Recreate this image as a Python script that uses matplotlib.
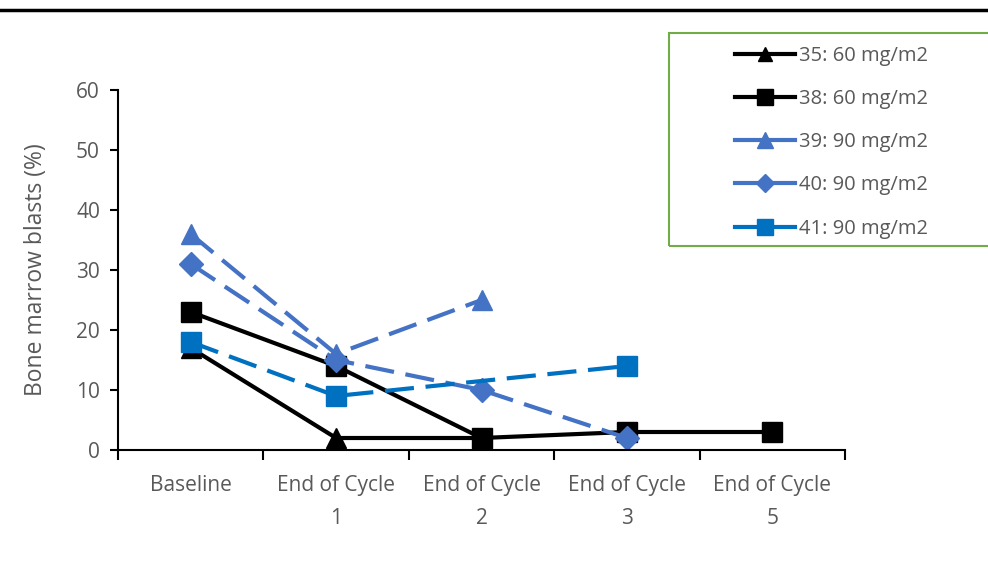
import numpy as np
import matplotlib.pyplot as plt
from matplotlib.lines import Line2D
from matplotlib.patches import Rectangle

plt.rcParams['font.family'] = ['Open Sans', 'DejaVu Sans']

categories = ['Baseline', 'End of Cycle\n1', 'End of Cycle\n2', 'End of Cycle\n3', 'End of Cycle\n5']
labels = ['35: 60 mg/m2', '38: 60 mg/m2', '39: 90 mg/m2', '40: 90 mg/m2', '41: 90 mg/m2']
s35 = [17, 2, 2, np.nan, np.nan]
s38 = [23, 14, 2, 3, 3]
s39 = [36, 16, 25, np.nan, np.nan]
s40 = [31, 15, 10, 2, np.nan]
s41 = [18, 9, np.nan, 14, np.nan]

series = [s35, s38, s39, s40, s41]
colors = ['black', 'black', '#4472C4', '#4472C4', '#0070C0']
markers = ['^', 's', '^', 'D', 's']
styles = ['-', '-', '--', '--', '--']
msizes = [14, 15, 15, 12, 15]

fig = plt.figure(figsize=(9.88, 5.61), dpi=100)
ax = fig.add_axes([118/988, 1-450/561, (845-118)/988, (450-90)/561])

xs = np.arange(len(categories))
for vals, c, m, ls, ms in zip(series, colors, markers, styles, msizes):
    v = np.array(vals, dtype=float)
    ok = ~np.isnan(v)
    line, = ax.plot(xs[ok], v[ok], color=c, marker=m, markersize=ms, linewidth=3,
                    linestyle=ls, clip_on=False)
    if ls == '--':
        line.set_dashes([7, 2.8])

ax.set_xlim(-0.5, 4.5)
ax.set_ylim(0, 60)
ax.set_yticks(range(0, 61, 10))
ax.set_xticks(np.arange(-0.5, 4.6, 1))
ax.set_xticklabels([])
ax.set_xticks(xs, minor=True)
ax.set_xticklabels(categories, minor=True, linespacing=1.75)
ax.tick_params(axis='x', which='minor', length=0, pad=18, labelsize=15, labelcolor='#595959')
ax.tick_params(axis='x', which='major', length=7, width=1.5, direction='out')
ax.tick_params(axis='y', length=6, width=1.5, labelsize=15, labelcolor='#595959', pad=7)
for sp in ['top', 'right']:
    ax.spines[sp].set_visible(False)
for sp in ['left', 'bottom']:
    ax.spines[sp].set_linewidth(1.5)
ax.set_ylabel('Bone marrow blasts (%)', fontsize=16.5, color='#595959', labelpad=20)

# top rule across the figure
fig.add_artist(Line2D([0, 1], [1-10/561, 1-10/561], color='black', linewidth=2.5))

# legend box
fig.add_artist(Rectangle((669/988, 1-246/561), 330/988, 213/561, transform=fig.transFigure,
                         fill=False, edgecolor='#70AD47', linewidth=1.5))
handles = [Line2D([], [], color=c, marker=m, markersize=ms*0.75, linewidth=3)
           for c, m, ms in zip(colors, markers, msizes)]
fig.legend(handles, labels, loc='upper left', bbox_to_anchor=(735/988, 1-46/561),
           frameon=False, fontsize=14.5, labelcolor='#595959', handlelength=3.0,
           handletextpad=0.2, labelspacing=1.15, borderaxespad=0, borderpad=0)

fig.savefig('out.png', dpi=100)
